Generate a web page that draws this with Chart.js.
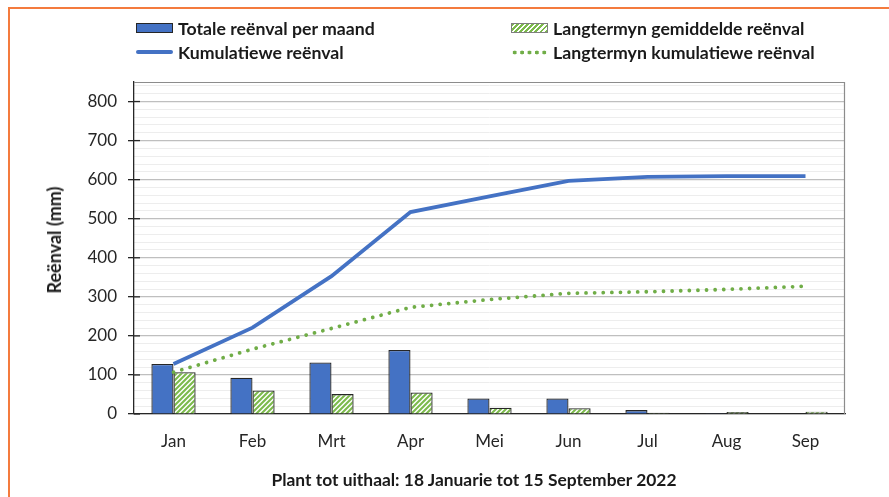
<!DOCTYPE html>
<html>
<head>
<meta charset="utf-8">
<script src="https://cdn.jsdelivr.net/npm/chart.js@4.4.1/dist/chart.umd.min.js"></script>
<style>
  html, body { margin: 0; padding: 0; background: #fff; overflow: hidden; }
  body { width: 889px; height: 497px; position: relative; font-family: Lato, "Open Sans", sans-serif; color: #1a1a1a; }
  #frame { position: absolute; left: 8px; top: 7px; width: 940px; height: 540px; border: 2px solid #F47B3D; box-sizing: border-box; }
  #chart { position: absolute; left: 0; top: 0; }
  .item { position: absolute; height: 20px; display: flex; align-items: center; font-weight: 700; font-size: 17.7px; white-space: nowrap; }
  .sw { width: 37px; margin-right: 5px; box-sizing: border-box; }
  .sw.bar { height: 10px; background: #4472C4; border: 1px solid #262626; }
  .sw.hatch { height: 10px; border: 1px solid #7f7f7f; background: repeating-linear-gradient(-45deg, #7cba4c 0 2px, #fff 2px 3.6px); }
  .sw.line { height: 3.5px; background: #4472C4; border-radius: 2px; }
  .sw.dots { height: 5px; background: radial-gradient(circle, #70AD47 1.7px, transparent 2.2px) 0 0 / 7.4px 5px repeat-x; }
  #ytitle { position: absolute; left: 54px; top: 240px; transform: translate(-50%, -50%) rotate(-90deg); font-weight: 700; font-size: 18px; white-space: nowrap; }
  #xtitle { position: absolute; left: 474px; top: 479px; transform: translate(-50%, -50%); font-weight: 700; font-size: 17.4px; white-space: nowrap; }
</style>
</head>
<body>
<div id="frame"></div>
<canvas id="chart" width="889" height="497"></canvas>

<div class="item" style="left:136px; top:18px;"><div class="sw bar"></div>Totale reënval per maand</div>
<div class="item" style="left:511px; top:18px;"><div class="sw hatch"></div>Langtermyn gemiddelde reënval</div>
<div class="item" style="left:136px; top:42px;"><div class="sw line"></div>Kumulatiewe reënval</div>
<div class="item" style="left:511px; top:42px;"><div class="sw dots"></div>Langtermyn kumulatiewe reënval</div>

<div id="ytitle">Reënval (mm)</div>
<div id="xtitle">Plant tot uithaal: 18 Januarie tot 15 September 2022</div>

<script>
// rainfall per month, mm
var months = ['Jan', 'Feb', 'Mrt', 'Apr', 'Mei', 'Jun', 'Jul', 'Aug', 'Sep'];
var monthlyRain = [128, 93, 132, 164, 40, 40, 10, 2, 0];
var cumulativeRain = [128, 221, 353, 517, 557, 597, 607, 609, 609];
var longTermMonthly = [107, 60, 51, 55, 16, 15, 3, 5, 6];
var longTermCumulative = [107, 166, 219, 273, 293, 309, 313, 319, 327];

var yMax = 850;
var yStep = 100;
var yMinorStep = 20;

var canvas = document.getElementById('chart');
var ctx = canvas.getContext('2d');

// diagonal green hatch for the long-term bars
function hatchPattern() {
  var c = document.createElement('canvas');
  c.width = 5; c.height = 5;
  var g = c.getContext('2d');
  g.fillStyle = '#ffffff';
  g.fillRect(0, 0, 5, 5);
  g.strokeStyle = '#7cba4c';
  g.lineWidth = 2.1;
  g.beginPath();
  g.moveTo(-1, 6); g.lineTo(6, -1);
  g.moveTo(-3.5, 3.5); g.lineTo(3.5, -3.5);
  g.moveTo(1.5, 8.5); g.lineTo(8.5, 1.5);
  g.stroke();
  return ctx.createPattern(c, 'repeat');
}

// box around the plot and the inner half of the y tick marks
var plotFrame = {
  id: 'plotFrame',
  afterDraw: function(chart) {
    var a = chart.chartArea;
    var y = chart.scales.y;
    var c = chart.ctx;
    c.save();
    c.strokeStyle = '#8c8c8c';
    c.lineWidth = 1.2;
    c.beginPath();
    c.moveTo(a.left, a.top + 0.5);
    c.lineTo(a.right - 0.5, a.top + 0.5);
    c.lineTo(a.right - 0.5, a.bottom);
    c.stroke();
    c.strokeStyle = '#262626';
    c.lineWidth = 1.3;
    y.ticks.forEach(function(t) {
      var py = y.getPixelForValue(t.value);
      c.beginPath();
      c.moveTo(a.left, py);
      c.lineTo(a.left + 6, py);
      c.stroke();
    });
    c.restore();
  }
};

var tickFont = { family: 'Lato', size: 17 };

var rainChart = new Chart(ctx, {
  type: 'bar',
  data: {
    labels: months,
    datasets: [
      {
        type: 'line',
        label: 'Kumulatiewe reënval',
        data: cumulativeRain,
        borderColor: '#4472C4',
        borderWidth: 3.8,
        pointRadius: 0,
        tension: 0,
        order: 0
      },
      {
        type: 'line',
        label: 'Langtermyn kumulatiewe reënval',
        data: longTermCumulative,
        borderColor: '#70AD47',
        borderWidth: 3.8,
        borderDash: [0.01, 8.6],
        borderCapStyle: 'round',
        pointRadius: 0,
        tension: 0,
        order: 1
      },
      {
        label: 'Totale reënval per maand',
        data: monthlyRain,
        backgroundColor: '#4472C4',
        borderColor: '#262626',
        borderWidth: 1.3,
        order: 2
      },
      {
        label: 'Langtermyn gemiddelde reënval',
        data: longTermMonthly,
        backgroundColor: hatchPattern(),
        borderColor: '#262626',
        borderWidth: 1.3,
        order: 3
      }
    ]
  },
  options: {
    responsive: false,
    animation: false,
    layout: { padding: { left: 40, right: 44, top: 82, bottom: 0 } },
    datasets: { bar: { categoryPercentage: 0.56, barPercentage: 1 } },
    plugins: { legend: { display: false }, tooltip: { enabled: false } },
    scales: {
      x: {
        grid: { display: false, drawTicks: false },
        border: { color: '#262626', width: 1.3 },
        ticks: { color: '#262626', font: tickFont, padding: 17 },
        afterFit: function(s) { s.height = 83; }
      },
      yMinor: {
        position: 'left',
        min: 0,
        max: yMax,
        ticks: { display: false, stepSize: yMinorStep, includeBounds: false },
        grid: {
          drawTicks: false,
          lineWidth: 1,
          color: function(c) { return c.tick && c.tick.value % yStep === 0 ? 'rgba(0,0,0,0)' : '#ededed'; }
        },
        border: { display: false },
        afterFit: function(s) { s.width = 0; }
      },
      y: {
        position: 'left',
        min: 0,
        max: yMax,
        ticks: { stepSize: yStep, includeBounds: false, padding: 11, color: '#262626', font: tickFont },
        grid: { color: '#bfbfbf', lineWidth: 1.3, tickLength: 6, tickColor: '#262626' },
        border: { color: '#262626', width: 1.3 },
        afterFit: function(s) { s.width = 94; }
      }
    }
  },
  plugins: [plotFrame]
});
</script>
</body>
</html>
